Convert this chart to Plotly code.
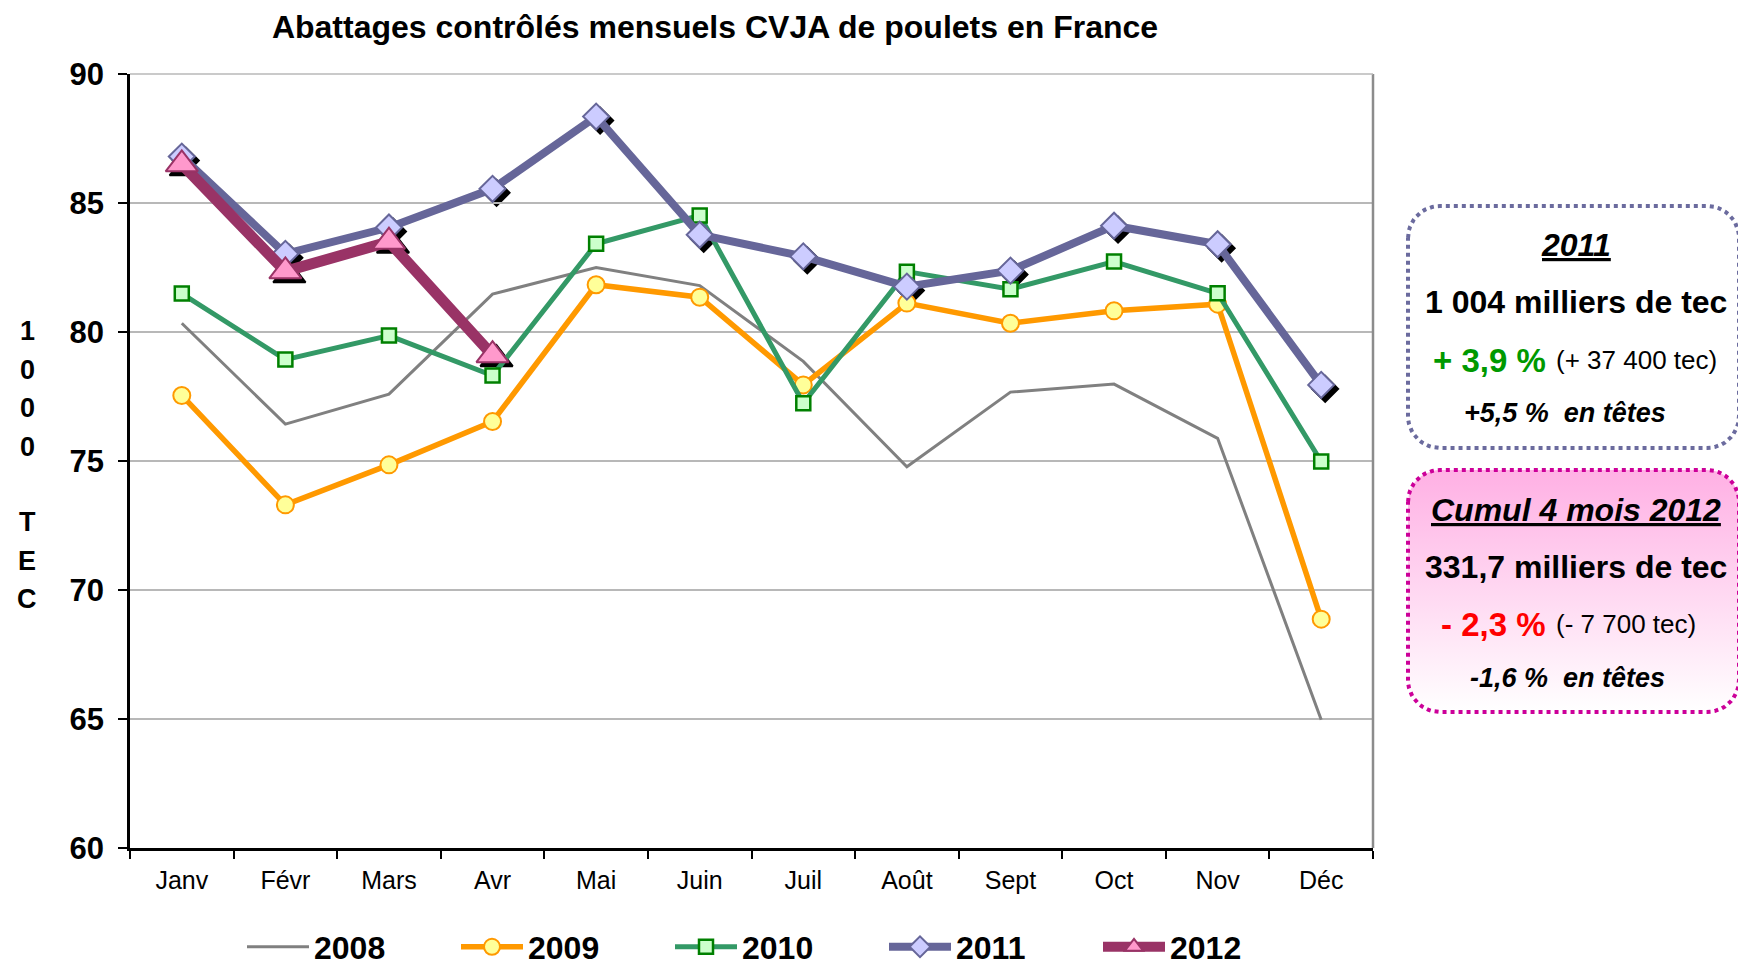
import numpy as np
import plotly.graph_objects as go

W, H = 1738, 966

# ---------------- data ----------------
months = ["Janv", "Févr", "Mars", "Avr", "Mai", "Juin", "Juil", "Août", "Sept", "Oct", "Nov", "Déc"]
v2008 = [80.34, 76.43, 77.59, 81.47, 82.50, 81.80, 78.86, 74.78, 77.67, 77.98, 75.88, 64.97]
v2009 = [77.54, 73.30, 74.85, 76.53, 81.83, 81.35, 77.95, 81.12, 80.34, 80.82, 81.08, 68.87]
v2010 = [81.49, 78.93, 79.86, 78.31, 83.42, 84.52, 77.24, 82.34, 81.66, 82.73, 81.50, 74.98]
v2011 = [86.80, 83.03, 84.05, 85.55, 88.35, 83.77, 82.93, 81.76, 82.38, 84.12, 83.40, 77.95]
months_2012 = ["Janv", "Févr", "Mars", "Avr"]
v2012 = [86.50, 82.35, 83.50, 79.10]
y_ticks = [60, 65, 70, 75, 80, 85, 90]
ytitle_chars = ["1", "0", "0", "0", "T", "E", "C"]

FONT = "Arial, Liberation Sans, sans-serif"

# plot area in pixels
PL, PR, PT, PB = 130, 1373, 74, 848
SH = 4  # shadow offset px


def rrect(x0, y0, x1, y1, r, n=14):
    xs, ys = [], []
    corners = [((x0 + r, y0 + r), np.pi, 1.5 * np.pi),
               ((x1 - r, y0 + r), 1.5 * np.pi, 2 * np.pi),
               ((x1 - r, y1 - r), 0.0, 0.5 * np.pi),
               ((x0 + r, y1 - r), 0.5 * np.pi, np.pi)]
    for (cx, cy), a0, a1 in corners:
        t = np.linspace(a0, a1, n)
        xs.extend(cx + r * np.cos(t))
        ys.extend(cy + r * np.sin(t))
    xs.append(xs[0])
    ys.append(ys[0])
    return list(xs), [H - y for y in ys]


fig = go.Figure()

# shadows of markers (subplot xy, shifted)
fig.add_trace(go.Scatter(x=months, y=v2011, mode="markers", xaxis="x", yaxis="y",
                         marker=dict(symbol="diamond", size=20, color="black",
                                     line=dict(color="black", width=2)),
                         showlegend=False, hoverinfo="skip"))
fig.add_trace(go.Scatter(x=months_2012, y=v2012, mode="markers", xaxis="x", yaxis="y",
                         marker=dict(symbol="triangle-up", size=28, color="black",
                                     line=dict(color="black", width=2)),
                         showlegend=False, hoverinfo="skip"))

# main series (subplot x2y2)
fig.add_trace(go.Scatter(x=months, y=v2008, name="2008", mode="lines", xaxis="x2", yaxis="y2",
                         line=dict(color="#808080", width=3)))
fig.add_trace(go.Scatter(x=months, y=v2009, name="2009", mode="lines+markers", xaxis="x2", yaxis="y2",
                         line=dict(color="#FF9900", width=5.5),
                         marker=dict(symbol="circle", size=17, color="#FFFF99",
                                     line=dict(color="#FF9900", width=2))))
fig.add_trace(go.Scatter(x=months, y=v2010, name="2010", mode="lines+markers", xaxis="x2", yaxis="y2",
                         line=dict(color="#339966", width=5),
                         marker=dict(symbol="square", size=14, color="#CCFFCC",
                                     line=dict(color="#008000", width=2.5))))
fig.add_trace(go.Scatter(x=months, y=v2011, name="2011", mode="lines+markers", xaxis="x2", yaxis="y2",
                         line=dict(color="#666699", width=8),
                         marker=dict(symbol="diamond", size=20, color="#CCCCFF",
                                     line=dict(color="#666699", width=2))))
fig.add_trace(go.Scatter(x=months_2012, y=v2012, name="2012", mode="lines+markers", xaxis="x2", yaxis="y2",
                         line=dict(color="#993366", width=11),
                         marker=dict(symbol="triangle-up", size=28, color="#FF99CC",
                                     line=dict(color="#993366", width=2))))

# info boxes (overlay subplot x3y3 in pixel coordinates)
bx, by = rrect(1408, 206, 1739, 448, 32)
fig.add_trace(go.Scatter(x=bx, y=by, mode="lines", fill="toself", fillcolor="white",
                         line=dict(color="#6B6B9E", width=4, dash="dot"),
                         xaxis="x3", yaxis="y3", showlegend=False, hoverinfo="skip"))
bx, by = rrect(1408, 470, 1739, 712, 32)
fig.add_trace(go.Scatter(x=bx, y=by, mode="lines", fill="toself",
                         fillgradient=dict(type="vertical", start=H - 712, stop=H - 470,
                                           colorscale=[[0, "#FFFFFF"], [1, "#FFB0E4"]]),
                         line=dict(color="#CC0099", width=4, dash="dot"),
                         xaxis="x3", yaxis="y3", showlegend=False, hoverinfo="skip"))

ann = []


def A(text, px, py, size, color="black", xanchor="center", bold=False, italic=False):
    t = text
    if bold:
        t = "<b>" + t + "</b>"
    if italic:
        t = "<i>" + t + "</i>"
    ann.append(dict(text=t, x=px / W, y=1 - py / H, xref="paper", yref="paper",
                    xanchor=xanchor, yanchor="middle", showarrow=False,
                    font=dict(family=FONT, size=size, color=color)))


# y-axis title (stacked letters)
for ch, py in zip(ytitle_chars, [331, 370, 408, 447, 522, 561, 599]):
    A(ch, 27, py, 27, bold=True)

# box 1
A("<u>2011</u>", 1576, 245, 32, bold=True, italic=True)
A("1 004 milliers de tec", 1576, 302, 32, bold=True)
A("+ 3,9 %", 1548, 360, 33, color="#009900", xanchor="right", bold=True)
A("(+ 37 400 tec)", 1554, 360, 26, xanchor="left")
A("+5,5 %\u00a0\u00a0en têtes", 1565, 413, 27, bold=True, italic=True)
# box 2
A("<u>Cumul 4 mois 2012</u>", 1576, 510, 32, bold=True, italic=True)
A("331,7 milliers de tec", 1576, 567, 32, bold=True)
A("- 2,3 %", 1548, 624, 33, color="#FF0000", xanchor="right", bold=True)
A("(- 7 700 tec)", 1554, 624, 26, xanchor="left")
A("-1,6 %\u00a0\u00a0en têtes", 1567, 678, 27, bold=True, italic=True)

fig.update_layout(
    width=W, height=H,
    margin=dict(l=0, r=0, t=0, b=0, autoexpand=False),
    paper_bgcolor="white", plot_bgcolor="rgba(0,0,0,0)",
    font=dict(family=FONT, color="black"),
    title=dict(text="<b>Abattages contrôlés mensuels CVJA de poulets en France</b>",
               x=715 / W, y=1 - 27 / H, xanchor="center", yanchor="middle",
               xref="paper", yref="paper", font=dict(family=FONT, size=32, color="black")),
    xaxis=dict(domain=[(PL + SH) / W, (PR + SH) / W], anchor="y", type="category",
               categoryarray=months, range=[-0.5, 11.5], visible=False),
    yaxis=dict(domain=[1 - (PB + SH) / H, 1 - (PT + SH) / H], anchor="x",
               range=[60, 90], visible=False),
    xaxis2=dict(domain=[PL / W, PR / W], anchor="y2", type="category",
                categoryarray=months, range=[-0.5, 11.5], tickson="boundaries",
                ticks="outside", ticklen=8, tickwidth=2, tickcolor="black",
                showline=True, linecolor="black", linewidth=2.5, showgrid=False,
                tickfont=dict(family=FONT, size=25, color="black"), ticklabelstandoff=8),
    yaxis2=dict(domain=[1 - PB / H, 1 - PT / H], anchor="x2", range=[60, 90],
                tickmode="array", tickvals=y_ticks, ticktext=[str(v) for v in y_ticks],
                ticks="outside", ticklen=9, tickwidth=2, tickcolor="black",
                showline=True, linecolor="black", linewidth=2.5,
                showgrid=True, gridcolor="#B8B8B8", gridwidth=1.5, zeroline=False,
                tickfont=dict(family=FONT, size=31, color="black", weight="bold"),
                ticklabelstandoff=8),
    xaxis3=dict(domain=[0, 1], anchor="y3", range=[0, W], visible=False),
    yaxis3=dict(domain=[0, 1], anchor="x3", range=[0, H], visible=False),
    legend=dict(orientation="h", x=242 / W, y=1 - 947 / H, xanchor="left", yanchor="middle",
                font=dict(family=FONT, size=32, color="black", weight="bold"),
                entrywidth=137, itemwidth=62, bgcolor="rgba(0,0,0,0)"),
    annotations=ann,
    shapes=[dict(type="line", xref="paper", yref="paper", x0=PR / W, x1=PR / W,
                 y0=1 - PB / H, y1=1 - PT / H, line=dict(color="#8C8C8C", width=2.5)),
            dict(type="line", xref="paper", yref="paper", x0=PL / W, x1=PR / W,
                 y0=1 - PT / H, y1=1 - PT / H, line=dict(color="#B8B8B8", width=1.5))],
    showlegend=True,
)

fig.write_html("out.html", config={"displayModeBar": False},
               post_script="document.body.style.margin='0';document.body.style.overflow='hidden';")
